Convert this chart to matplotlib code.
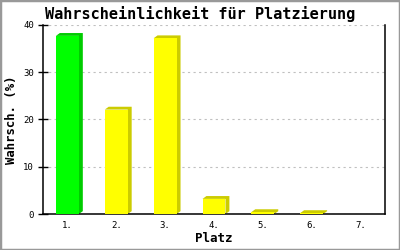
import matplotlib
matplotlib.use("Agg")
import matplotlib.pyplot as plt
from matplotlib.patches import Rectangle

platz = ["1.", "2.", "3.", "4.", "5.", "6.", "7."]
wahrsch = [37.7, 22.1, 37.2, 3.2, 0.4, 0.2, 0.0]
front_colors = ["#00ff00", "#ffff00", "#ffff00", "#ffff00", "#ffff00", "#ffff00", "#ffff00"]
side_colors = ["#00cc00", "#cccc00", "#cccc00", "#cccc00", "#cccc00", "#cccc00", "#cccc00"]

mono = "DejaVu Sans Mono"

fig = plt.figure(figsize=(4, 2.5), dpi=100)
ax = fig.add_axes([0.1075, 0.144, 0.855, 0.756])

x = list(range(len(platz)))
w = 0.47
dx = 0.08
dy = 0.6
for i in x:
    v = wahrsch[i]
    if v <= 0:
        continue
    x0 = i - w / 2
    x1 = i + w / 2
    ax.fill([x0, x0 + dx, x1 + dx, x1 + dx, x1, x1],
            [v, v + dy, v + dy, dy, 0, v],
            color=side_colors[i], lw=0, zorder=2)
ax.bar(x, wahrsch, width=w, color=front_colors, lw=0, zorder=3)

ax.set_xlim(-0.5, len(platz) - 0.5)
ax.set_ylim(0, 40)
ax.set_yticks([0, 10, 20, 30, 40])
ax.set_xticks(x)
ax.set_xticklabels(platz)
ax.tick_params(axis="x", length=0, pad=5, labelsize=6.5)
ax.tick_params(axis="y", direction="inout", length=7, width=1, pad=3, labelsize=6.5)
for lab in ax.get_xticklabels() + ax.get_yticklabels():
    lab.set_family(mono)

ax.yaxis.grid(True, color="#c0c0c0", linestyle=(0, (2, 3)), lw=0.8)
ax.set_axisbelow(True)
ax.spines["top"].set_visible(False)
for s in ["left", "bottom", "right"]:
    ax.spines[s].set_linewidth(1.1)

ax.set_xlabel("Platz", family=mono, fontweight="bold", fontsize=9, va="center")
ax.xaxis.set_label_coords(0.5, -0.127)
ax.set_ylabel("Wahrsch. (%)", family=mono, fontweight="bold", fontsize=8.8, va="center")
ax.yaxis.set_label_coords(-0.092, 0.5)
fig.suptitle("Wahrscheinlichkeit für Platzierung", family=mono, fontweight="bold",
             fontsize=11, y=0.975)

fig.patches.append(Rectangle((0, 0), 1, 1, transform=fig.transFigure,
                             fill=False, edgecolor="#999999", lw=2.5))

fig.savefig("out.png", dpi=100)
